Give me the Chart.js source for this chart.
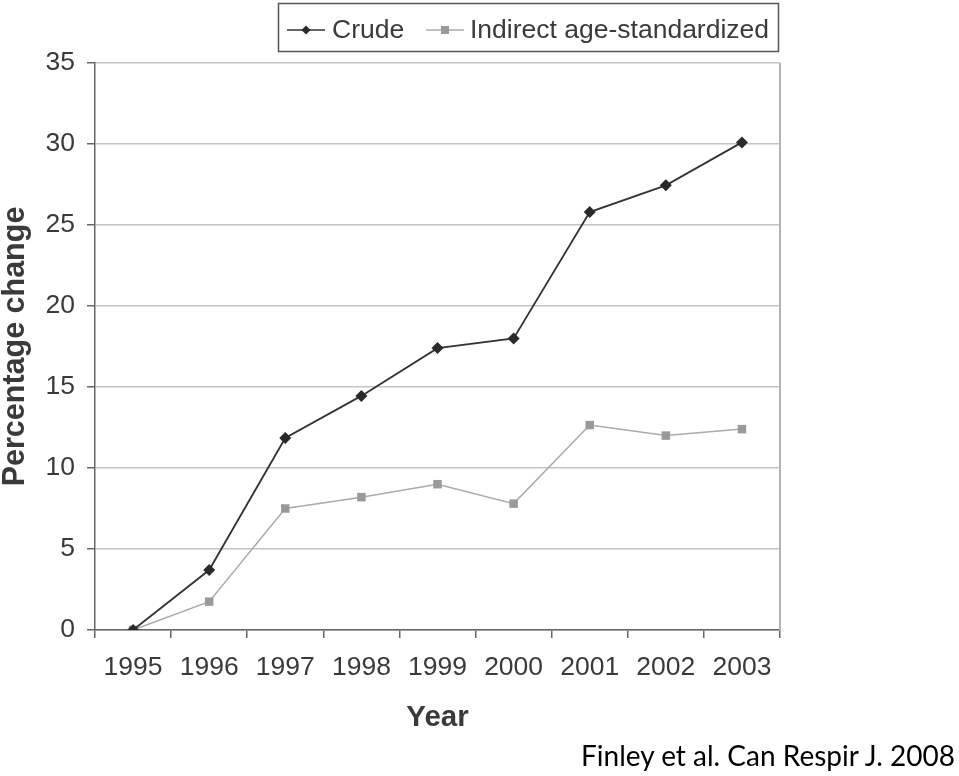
<!DOCTYPE html>
<html>
<head>
<meta charset="utf-8">
<script src="https://cdn.jsdelivr.net/npm/chart.js@4"></script>
<style>
  body { margin: 0; background: #fff; }
  #wrap { position: relative; width: 959px; height: 776px; }
  #credit {
    position: absolute; right: 4px; top: 738px;
    font-family: Lato, "Open Sans", sans-serif; font-size: 28px; color: #000;
  }
</style>
</head>
<body>
<div id="wrap">
  <canvas id="myChart" width="959" height="776"></canvas>
  <div id="credit">Finley et al. Can Respir J. 2008</div>
</div>
<script>
const years = ['1995', '1996', '1997', '1998', '1999', '2000', '2001', '2002', '2003'];
const crude = [0, 3.7, 11.85, 14.45, 17.4, 18.0, 25.8, 27.45, 30.1];
const indirect = [0, 1.75, 7.5, 8.2, 9.0, 7.8, 12.65, 12.0, 12.4];
const seriesNames = ['Crude', 'Indirect age-standardized'];

const textColor = '#3a3a3a';

// frame on the right and a boxed legend at the top
const extras = {
    id: 'extras',
    afterDraw(chart) {
        const ctx = chart.ctx;
        const a = chart.chartArea;
        ctx.save();
        ctx.strokeStyle = '#b4b4b4';
        ctx.lineWidth = 2;
        ctx.beginPath();
        ctx.moveTo(a.right, a.top);
        ctx.lineTo(a.right, a.bottom);
        ctx.stroke();

        // legend box
        ctx.strokeStyle = '#555';
        ctx.lineWidth = 1.5;
        ctx.strokeRect(278.5, 3.5, 500, 48);
        const y = 30;
        ctx.font = '26.5px "Liberation Sans", Arial, sans-serif';
        ctx.textBaseline = 'middle';

        ctx.strokeStyle = '#333';
        ctx.lineWidth = 1.5;
        ctx.beginPath(); ctx.moveTo(287, y); ctx.lineTo(325, y); ctx.stroke();
        ctx.fillStyle = '#2a2a2a';
        ctx.beginPath();
        ctx.moveTo(306, y - 4.5); ctx.lineTo(310.5, y); ctx.lineTo(306, y + 4.5); ctx.lineTo(301.5, y);
        ctx.closePath(); ctx.fill();
        ctx.fillStyle = textColor;
        ctx.fillText(seriesNames[0], 332, y + 1);

        ctx.strokeStyle = '#aaa';
        ctx.beginPath(); ctx.moveTo(426, y); ctx.lineTo(464, y); ctx.stroke();
        ctx.fillStyle = '#999';
        ctx.fillRect(441, y - 4, 8, 8);
        ctx.fillStyle = textColor;
        ctx.fillText(seriesNames[1], 470, y + 1);
        ctx.restore();
    }
};

const ctx = document.getElementById('myChart').getContext('2d');
new Chart(ctx, {
    type: 'line',
    data: {
        labels: years,
        datasets: [{
            label: seriesNames[0],
            data: crude,
            borderColor: '#333',
            backgroundColor: '#2a2a2a',
            borderWidth: 1.8,
            pointStyle: 'rectRot',
            pointRadius: 6,
            pointBorderWidth: 0
        }, {
            label: seriesNames[1],
            data: indirect,
            borderColor: '#aaa',
            backgroundColor: '#999',
            borderWidth: 1.5,
            pointStyle: 'rect',
            pointRadius: 6,
            pointBorderWidth: 0
        }]
    },
    options: {
        responsive: false,
        animation: false,
        layout: { padding: { top: 63, right: 179, left: 0, bottom: 0 } },
        plugins: { legend: { display: false }, tooltip: { enabled: false } },
        scales: {
            x: {
                offset: true,
                afterFit: s => { s.height = 146; },
                grid: { drawOnChartArea: false, offset: true, tickLength: 8, color: '#666', lineWidth: 1.5 },
                border: { color: '#666', width: 1.5 },
                ticks: {
                    color: textColor, padding: 14, maxRotation: 0, autoSkip: false,
                    font: { family: '"Liberation Sans", Arial', size: 26.5 }
                },
                title: {
                    display: true, text: 'Year', color: textColor,
                    font: { family: '"Liberation Sans", Arial', size: 29.5, weight: 'bold' },
                    padding: { top: 0, bottom: 40 }
                }
            },
            y: {
                min: 0, max: 35,
                afterFit: s => { s.width = 95; },
                grid: { color: '#c4c4c4', lineWidth: 1.5, tickLength: 8, tickColor: '#666' },
                border: { color: '#666', width: 1.5 },
                ticks: {
                    stepSize: 5, color: textColor, padding: 12,
                    font: { family: '"Liberation Sans", Arial', size: 26.5 }
                },
                title: {
                    display: true, text: 'Percentage change', color: textColor,
                    font: { family: '"Liberation Sans", Arial', size: 30.5, weight: 'bold', lineHeight: 1 },
                    padding: { top: 0, bottom: 0 }
                }
            }
        }
    },
    plugins: [extras]
});
</script>
</body>
</html>
